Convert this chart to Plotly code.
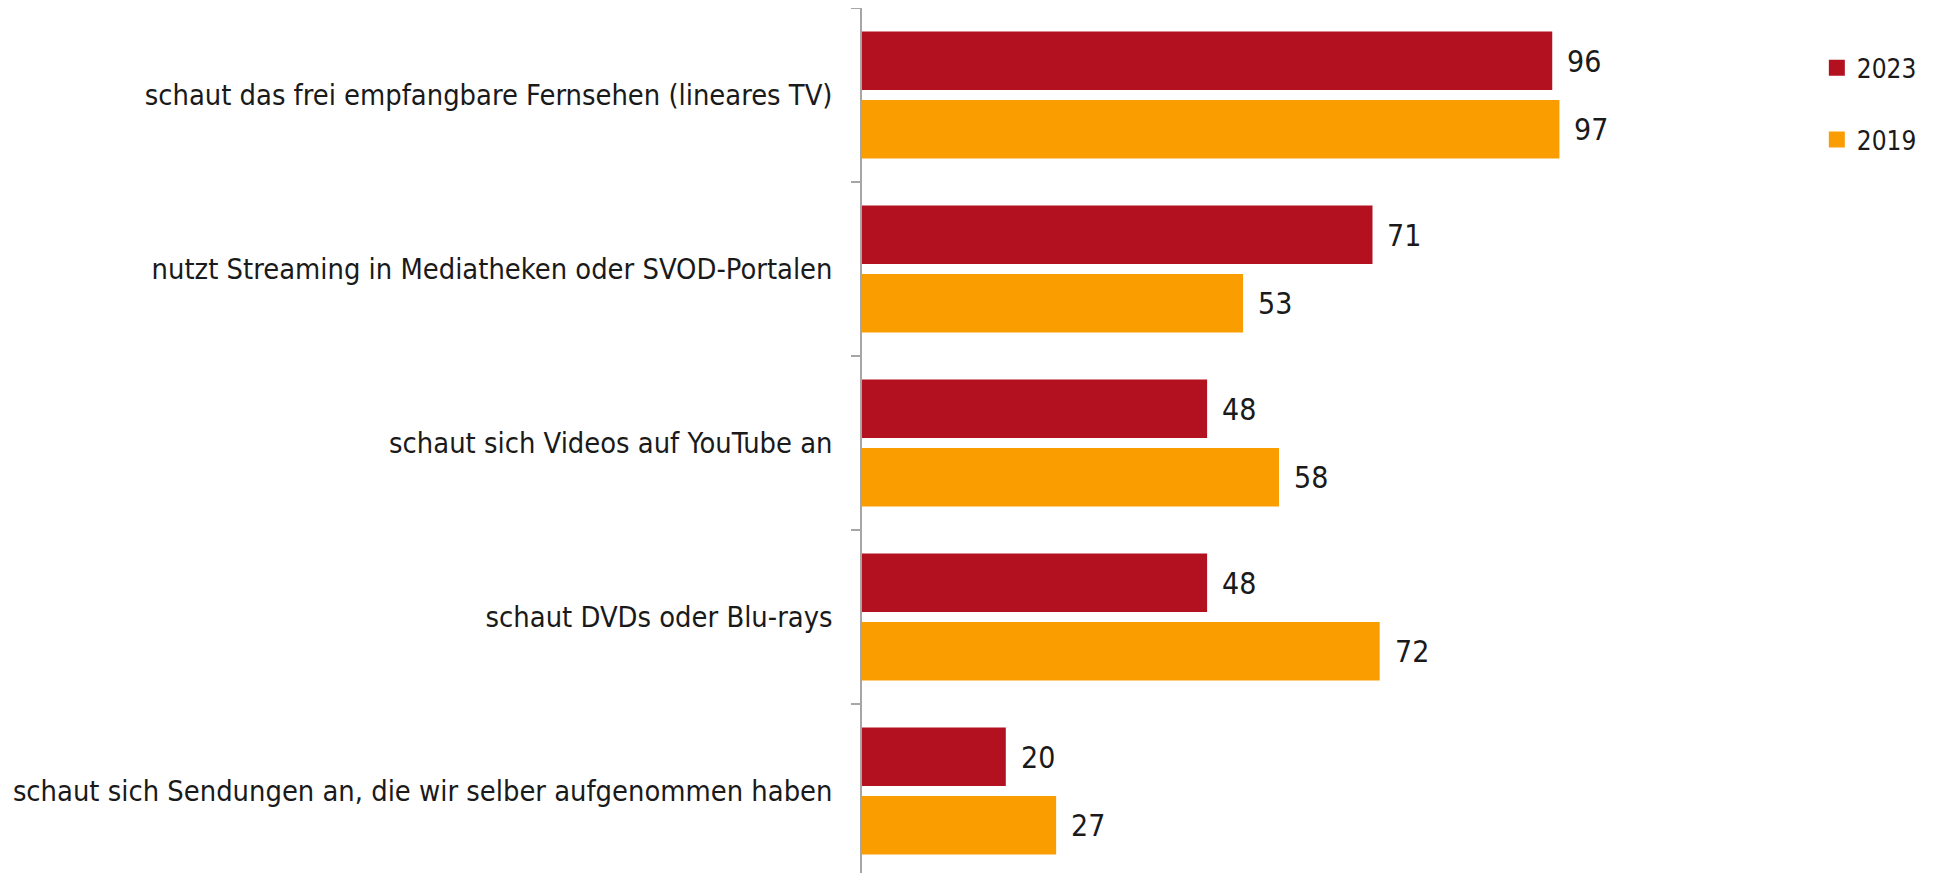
import plotly.graph_objects as go

categories = [
    "schaut das frei empfangbare Fernsehen (lineares TV)",
    "nutzt Streaming in Mediatheken oder SVOD-Portalen",
    "schaut sich Videos auf YouTube an",
    "schaut DVDs oder Blu-rays",
    "schaut sich Sendungen an, die wir selber aufgenommen haben",
]
values_2023 = [96, 71, 48, 48, 20]
values_2019 = [97, 53, 58, 72, 27]
series_names = ["2023", "2019"]

RED = "#B3111F"
ORANGE = "#F99D00"
FONT = "DejaVu Sans Condensed"
TXT = "#1a1a1a"

fig = go.Figure()
fig.add_trace(go.Bar(
    y=categories, x=values_2023, name=series_names[0], orientation="h",
    marker=dict(color=RED, line=dict(width=0)), showlegend=False,
))
fig.add_trace(go.Bar(
    y=categories, x=values_2019, name=series_names[1], orientation="h",
    marker=dict(color=ORANGE, line=dict(width=0)), showlegend=False,
))
# legend entries (square swatches)
for name, col, grp in [(series_names[0], RED, "a"), (series_names[1], ORANGE, "b")]:
    fig.add_trace(go.Scatter(
        x=[None], y=[None], mode="markers", name=name, legendgroup=grp,
        marker=dict(symbol="square", size=16, color=col),
    ))

# value labels
for trace_idx, vals in enumerate([values_2023, values_2019]):
    for cat, v in zip(categories, vals):
        fig.add_annotation(
            x=v, y=cat, text=str(v), showarrow=False, xanchor="left",
            xshift=13, yshift=(34 if trace_idx == 0 else -34),
            font=dict(family=FONT, size=30, color=TXT),
        )

fig.update_layout(
    width=1939, height=865,
    margin=dict(l=854, r=366, t=0, b=0, autoexpand=False),
    paper_bgcolor="white", plot_bgcolor="white",
    barmode="group", bargap=0.213, bargroupgap=0.146,
    font=dict(family=FONT, size=26, color=TXT),
    showlegend=True,
    legend=dict(
        x=1.328, y=0.958, xanchor="left", yanchor="top",
        traceorder="grouped", tracegroupgap=35,
        font=dict(family=FONT, size=26, color=TXT),
        bgcolor="rgba(0,0,0,0)",
    ),
)
fig.update_xaxes(range=[0, 100], visible=False, showgrid=False, zeroline=False, automargin=False)
fig.update_yaxes(
    type="category", range=[4.471, -0.5], automargin=False,
    showline=True, linecolor="#a6a6a6", linewidth=1.5,
    ticks="outside", tickson="boundaries", ticklen=9, tickcolor="#a6a6a6", tickwidth=1.5,
    showgrid=False, zeroline=False, ticklabelstandoff=22,
    tickfont=dict(family=FONT, size=28.8, color=TXT),
)

fig.write_html("out.html")
